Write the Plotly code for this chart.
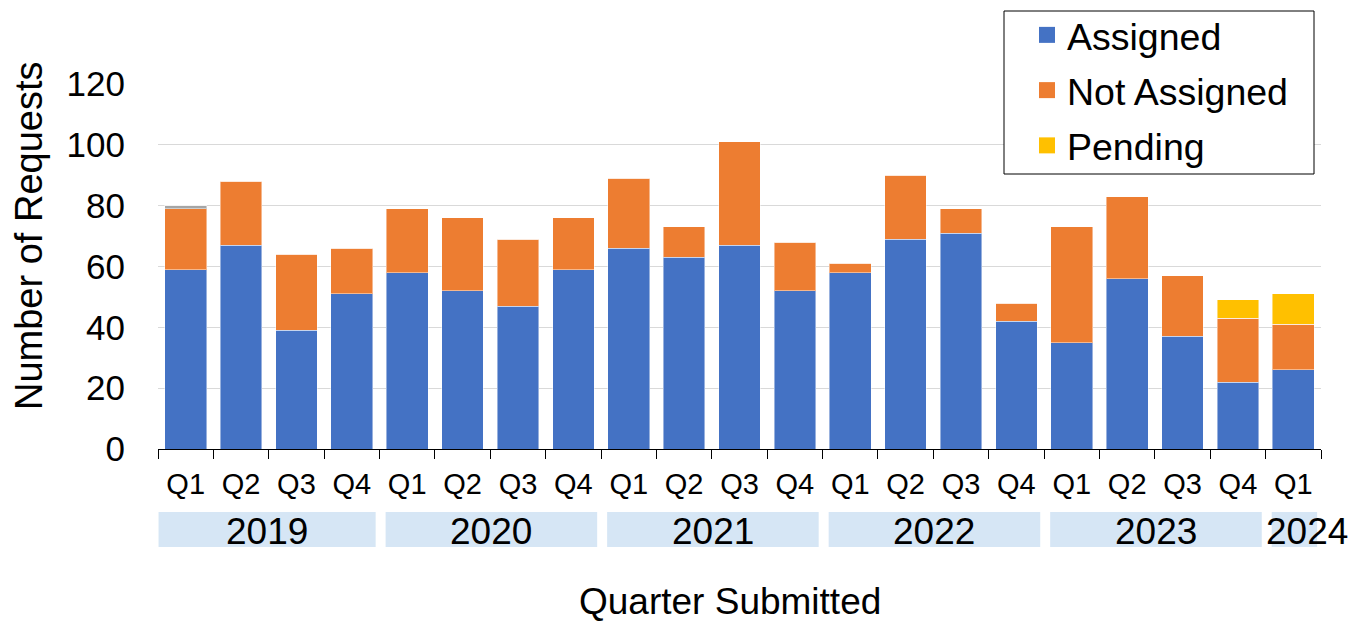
import plotly.graph_objects as go

quarters = ["Q1", "Q2", "Q3", "Q4"] * 5 + ["Q1"]
years = [2019] * 4 + [2020] * 4 + [2021] * 4 + [2022] * 4 + [2023] * 4 + [2024]
categories = [f"{q} {y}" for q, y in zip(quarters, years)]

assigned = [59, 67, 39, 51, 58, 52, 47, 59, 66, 63, 67, 52, 58, 69, 71, 42, 35, 56, 37, 22, 26]
not_assigned = [20, 21, 25, 15, 21, 24, 22, 17, 23, 10, 34, 16, 3, 21, 8, 6, 38, 27, 20, 21, 15]
other = [1, 0, 0, 0, 0, 0, 0, 0, 0, 0, 0, 0, 0, 0, 0, 0, 0, 0, 0, 0, 0]
pending = [0, 0, 0, 0, 0, 0, 0, 0, 0, 0, 0, 0, 0, 0, 0, 0, 0, 0, 0, 6, 10]

BLUE = "#4472C4"
ORANGE = "#ED7D31"
GRAY = "#A5A5A5"
YELLOW = "#FFC000"
FONT = "Liberation Sans, Arial, sans-serif"

# page pixel -> paper coordinate helpers (plot area: x 158..1321, y 84..449 on the page)
PX0, PW = 158.0, 1163.0
PY0, PH = 449.0, 365.0
def px(xp):
    return (xp - PX0) / PW
def py(yp):
    return (PY0 - yp) / PH

fig = go.Figure()
edge = dict(color="rgba(255,255,255,0.45)", width=1)
for name, vals, col in [("Assigned", assigned, BLUE), ("Not Assigned", not_assigned, ORANGE),
                        ("Other", other, GRAY), ("Pending", pending, YELLOW)]:
    fig.add_trace(go.Bar(x=categories, y=vals, name=name, marker=dict(color=col, line=edge),
                         showlegend=False))

# legend entries with larger square swatches
for i, (name, col) in enumerate([("Assigned", BLUE), ("Not Assigned", ORANGE), ("Pending", YELLOW)]):
    fig.add_trace(go.Scatter(x=[None], y=[None], mode="markers", name=name,
                             marker=dict(symbol="square", size=19, color=col),
                             legendgroup=f"g{i}", showlegend=True))

# legend frame
fig.add_shape(type="rect", xref="paper", yref="paper", x0=px(1004), x1=px(1314),
              y0=py(174), y1=py(11), fillcolor="white", line=dict(color="black", width=1),
              layer="above")

# year bands under the axis
n = len(categories)
year_groups = []
start = 0
for i in range(1, n + 1):
    if i == n or years[i] != years[start]:
        year_groups.append((start, i - 1, str(years[start])))
        start = i

for k, (a, b, lab) in enumerate(year_groups):
    x0 = a - 0.5 + (0.01 if k == 0 else 0.11)
    x1 = b + 0.5 - 0.07
    fig.add_shape(type="rect", xref="x", yref="paper", x0=x0, x1=x1, y0=py(512), y1=py(547),
                  fillcolor="#D6E6F5", line=dict(width=0), layer="below")
    if lab == "2024":
        fig.add_annotation(x=a - 0.53, y=py(531), xref="x", yref="paper", text=lab,
                           showarrow=False, xanchor="left", yanchor="middle",
                           font=dict(family=FONT, size=37, color="black"))
    else:
        fig.add_annotation(x=(x0 + x1) / 2, y=py(531), xref="x", yref="paper", text=lab,
                           showarrow=False, xanchor="center", yanchor="middle",
                           font=dict(family=FONT, size=37, color="black"))

fig.add_annotation(x=px(730), y=py(601), xref="paper", yref="paper",
                   text="Quarter Submitted", showarrow=False, xanchor="center", yanchor="middle",
                   font=dict(family=FONT, size=37, color="black"))
fig.add_annotation(x=px(29), y=py(236), xref="paper", yref="paper",
                   text="Number of Requests", showarrow=False, textangle=-90,
                   xanchor="center", yanchor="middle",
                   font=dict(family=FONT, size=38, color="black"))

fig.update_layout(
    width=1359, height=614,
    margin=dict(l=150, r=46, t=76, b=173, autoexpand=False),
    barmode="stack", bargap=0.247,
    plot_bgcolor="white", paper_bgcolor="white",
    font=dict(family=FONT, color="black"),
    legend=dict(x=px(1027), y=py(4), xanchor="left", yanchor="top",
                bgcolor="rgba(0,0,0,0)", borderwidth=0,
                font=dict(family=FONT, size=37.5, color="black"),
                traceorder="grouped", tracegroupgap=3.5),
)
fig.update_xaxes(
    type="category", tickmode="array", tickvals=categories, ticktext=quarters,
    tickson="boundaries", ticks="outside", ticklen=9, tickwidth=1.3, tickcolor="black",
    showline=True, linecolor="black", linewidth=1.3, showgrid=False,
    tickfont=dict(family=FONT, size=29, color="black"), range=[-0.5, n - 0.5],
    ticklabelstandoff=9,
)
fig.update_yaxes(
    range=[0, 120], dtick=20, tick0=0, showgrid=True, gridcolor="#D9D9D9", gridwidth=1,
    zeroline=False, showline=False, ticks="",
    tickfont=dict(family=FONT, size=35, color="black"), ticklabelstandoff=32,
)

fig.write_html("out.html")
